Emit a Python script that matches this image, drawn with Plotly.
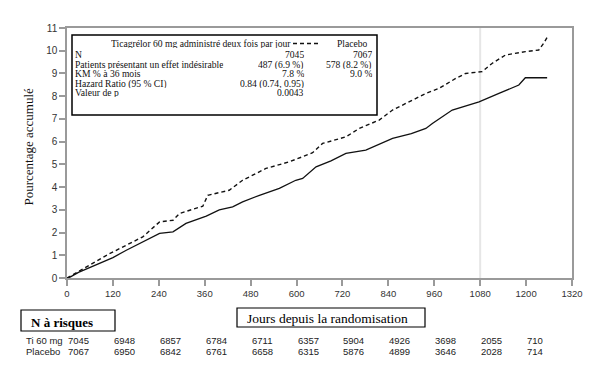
import plotly.graph_objects as go

# ---- data ----
days_ticagrelor = [0, 8, 30, 68, 120, 155, 198, 242, 277, 311, 364, 398, 433, 459, 503, 555, 598, 616,
                   651, 690, 729, 781, 851, 900, 938, 955, 1007, 1077, 1129, 1181, 1198, 1255]
pct_ticagrelor = [0, 0.04, 0.25, 0.52, 0.90, 1.22, 1.59, 1.96, 2.03, 2.40, 2.72, 3.00, 3.13, 3.35, 3.64,
                  3.94, 4.30, 4.38, 4.89, 5.15, 5.48, 5.63, 6.14, 6.35, 6.58, 6.80, 7.39, 7.75, 8.12,
                  8.49, 8.81, 8.81]
days_placebo = [0, 38, 67, 111, 155, 198, 242, 277, 294, 355, 368, 424, 459, 520, 581, 642, 668, 729,
                764, 816, 851, 938, 972, 1016, 1042, 1085, 1111, 1146, 1198, 1233, 1246, 1255]
pct_placebo = [0, 0.37, 0.63, 1.07, 1.44, 1.81, 2.47, 2.54, 2.84, 3.16, 3.64, 3.86, 4.30, 4.82, 5.11,
               5.51, 5.92, 6.21, 6.58, 6.95, 7.39, 8.12, 8.34, 8.78, 9.00, 9.08, 9.44, 9.81, 9.96,
               10.03, 10.33, 10.59]

x_ticks = [0, 120, 240, 360, 480, 600, 720, 840, 960, 1080, 1200, 1320]
y_ticks = list(range(0, 12))
risk_days = [0, 120, 240, 360, 480, 600, 720, 840, 960, 1080, 1200]
risk_ticagrelor = [7045, 6948, 6857, 6784, 6711, 6357, 5904, 4926, 3698, 2055, 710]
risk_placebo = [7067, 6950, 6842, 6761, 6658, 6315, 5876, 4899, 3646, 2028, 714]

legend_rows = ["N", "Patients présentant un effet indésirable", "KM % à 36 mois",
               "Hazard Ratio (95 % CI)", "Valeur de p"]
legend_col1 = ["7045", "487 (6.9 %)", "7.8 %", "0.84 (0.74, 0.95)", "0.0043"]
legend_col2 = ["7067", "578 (8.2 %)", "9.0 %", "", ""]

# ---- layout helpers (pixel -> paper) ----
W, H = 604, 370
ML, MR, MT, MB = 67, 32, 28, 92
PW, PH = W - ML - MR, H - MT - MB


def px(x):
    return (x - ML) / PW


def py(y):
    return (H - MB - y) / PH


SERIF = "Liberation Serif, Times New Roman, serif"
SANS = "Liberation Sans, Arial, sans-serif"
LEG = 9.6

fig = go.Figure()
fig.add_trace(go.Scatter(x=days_ticagrelor, y=pct_ticagrelor, mode="lines",
                         line=dict(color="#111", width=1.3), showlegend=False))
fig.add_trace(go.Scatter(x=days_placebo, y=pct_placebo, mode="lines",
                         line=dict(color="#111", width=1.4, dash="4px,3px"), showlegend=False))

shapes = []
shapes.append(dict(type="line", xref="x", yref="paper", x0=1080, x1=1080, y0=0, y1=1,
                   line=dict(color="#e6e6e6", width=2), layer="below"))
shapes.append(dict(type="rect", xref="paper", yref="paper", x0=px(72), x1=px(377), y0=py(115), y1=py(35),
                   line=dict(color="#000", width=1.5), fillcolor="white"))
shapes.append(dict(type="line", xref="paper", yref="paper", x0=px(293), x1=px(318), y0=py(43.5), y1=py(43.5),
                   line=dict(color="#111", width=1.3, dash="4px,3px")))
shapes.append(dict(type="rect", xref="paper", yref="paper", x0=px(21), x1=px(115), y0=py(331), y1=py(310),
                   line=dict(color="#000", width=1.2)))
shapes.append(dict(type="rect", xref="paper", yref="paper", x0=px(237), x1=px(425), y0=py(327), y1=py(308),
                   line=dict(color="#000", width=1.2)))

ann = []
ann.append(dict(text="Pourcentage accumulé", xref="paper", yref="paper", x=px(27.5), y=py(147),
                xanchor="center", yanchor="middle", textangle=-90, showarrow=False,
                font=dict(family=SERIF, size=13, color="#111")))
ann.append(dict(text="Ticagrélor 60 mg administré deux fois par jour", xref="paper", yref="paper",
                x=px(110), y=py(43.5), xanchor="left", yanchor="middle", showarrow=False,
                height=9, borderpad=0,
                font=dict(family=SERIF, size=LEG, color="#111")))
ann.append(dict(text="Placebo", xref="paper", yref="paper", x=px(369), y=py(43.5), xanchor="right",
                yanchor="middle", showarrow=False, height=9, borderpad=0,
                font=dict(family=SERIF, size=LEG, color="#111")))
row_y = [54.5, 64, 73.5, 83, 92.3]
for lab, c1, c2, yy in zip(legend_rows, legend_col1, legend_col2, row_y):
    ann.append(dict(text=lab, xref="paper", yref="paper", x=px(74), y=py(yy), xanchor="left",
                    yanchor="middle", showarrow=False, height=9, borderpad=0,
                    font=dict(family=SERIF, size=LEG, color="#111")))
    ann.append(dict(text=c1, xref="paper", yref="paper", x=px(305), y=py(yy), xanchor="right",
                    yanchor="middle", showarrow=False, height=9, borderpad=0,
                    font=dict(family=SERIF, size=LEG, color="#111")))
    if c2:
        ann.append(dict(text=c2, xref="paper", yref="paper", x=px(373), y=py(yy), xanchor="right",
                        yanchor="middle", showarrow=False, height=9, borderpad=0,
                        font=dict(family=SERIF, size=LEG, color="#111")))

ann.append(dict(text="<b>N à risques</b>", xref="paper", yref="paper", x=px(29), y=py(322),
                xanchor="left", yanchor="middle", showarrow=False,
                font=dict(family=SERIF, size=13, color="#000")))
ann.append(dict(text="Jours depuis la randomisation", xref="paper", yref="paper", x=px(245), y=py(318),
                xanchor="left", yanchor="middle", showarrow=False,
                font=dict(family=SERIF, size=13.5, color="#000")))
ann.append(dict(text="Ti 60 mg", xref="paper", yref="paper", x=px(24), y=py(340), xanchor="left",
                yanchor="middle", showarrow=False, font=dict(family=SANS, size=9.5, color="#222")))
ann.append(dict(text="Placebo", xref="paper", yref="paper", x=px(24), y=py(351.5), xanchor="left",
                yanchor="middle", showarrow=False, font=dict(family=SANS, size=9.5, color="#222")))
for d, a, b in zip(risk_days, risk_ticagrelor, risk_placebo):
    ann.append(dict(text=str(a), xref="x", yref="paper", x=d, y=py(340), xanchor="left",
                    yanchor="middle", showarrow=False, xshift=-1,
                    font=dict(family=SANS, size=9.5, color="#222")))
    ann.append(dict(text=str(b), xref="x", yref="paper", x=d, y=py(351.5), xanchor="left",
                    yanchor="middle", showarrow=False, xshift=-1,
                    font=dict(family=SANS, size=9.5, color="#222")))

fig.update_layout(
    width=W, height=H,
    margin=dict(l=ML, r=MR, t=MT, b=MB, autoexpand=False),
    paper_bgcolor="white", plot_bgcolor="white",
    shapes=shapes, annotations=ann,
    xaxis=dict(range=[0, 1320], tickvals=x_ticks, ticktext=[str(v) for v in x_ticks],
               automargin=False,
               showgrid=False, zeroline=False, showline=True, linecolor="#9a9a9a", linewidth=1.5,
               mirror=True, ticks="outside", ticklen=6, tickcolor="#9a9a9a", tickwidth=1.5,
               tickfont=dict(family=SANS, size=9.5, color="#333")),
    yaxis=dict(range=[0, 11], tickvals=y_ticks, showgrid=False, zeroline=False, showline=True,
               automargin=False,
               linecolor="#9a9a9a", linewidth=1.5, mirror=True, ticks="outside", ticklen=6,
               tickcolor="#9a9a9a", tickwidth=1.5,
               tickfont=dict(family=SANS, size=10, color="#333")),
)

fig.write_html("out.html", config={"displayModeBar": False},
               post_script="document.body.style.margin='0';document.body.style.padding='0';")
